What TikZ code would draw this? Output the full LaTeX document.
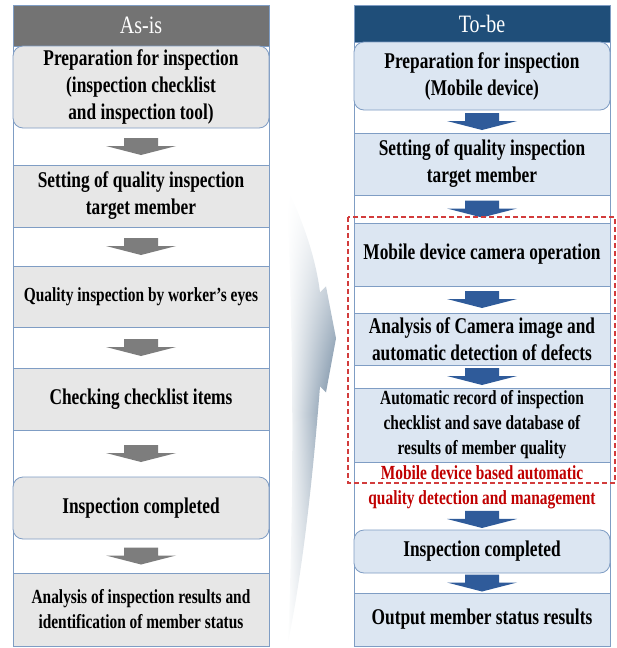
\documentclass[tikz,border=0pt]{standalone}
\usepackage{fontspec}
\setmainfont{Liberation Serif}[FakeStretch=0.77]
\newfontfamily\cabecera{Liberation Serif}[FakeStretch=0.8]
\usetikzlibrary{calc,fadings}

\definecolor{borde}{RGB}{127,157,196}
\definecolor{grisclaro}{RGB}{231,231,231}
\definecolor{grisosc}{RGB}{115,115,115}
\definecolor{azulclaro}{RGB}{220,230,242}
\definecolor{azulosc}{RGB}{31,78,121}
\definecolor{flechagris}{RGB}{125,125,125}
\definecolor{flechaazul}{RGB}{47,91,154}
\definecolor{rojo}{RGB}{192,0,0}
\definecolor{rojolinea}{RGB}{210,60,60}
\definecolor{sombra}{RGB}{105,130,155}

\tikzfading[name=puntas, top color=transparent!100, bottom color=transparent!60, middle color=transparent!0]

% flecha de bloque entre dos cajas
\newcommand{\flecha}[3]{%
  \fill[#3, shift={($(#1.south)!0.5!(#2.north)$)}]
    (-17,-8.5) -- (17,-8.5) -- (17,-0.5) -- (35,-0.5) -- (0,8.5) -- (-35,-0.5) -- (-17,-0.5) -- cycle;}

\begin{document}
\begin{tikzpicture}[x=1pt, y=-1pt,
    marco/.style={draw=borde, line width=0.8pt, fill=white},
    caja/.style={draw=borde, line width=0.8pt, minimum width=256pt, inner sep=0pt,
      align=center, font=\fontsize{22.5}{27}\selectfont\bfseries},
    chica/.style={font=\fontsize{20}{25}\selectfont\bfseries},
    gris/.style={caja, fill=grisclaro},
    azul/.style={caja, fill=azulclaro},
    redonda/.style={rounded corners=10pt},
    titulo/.style={caja, text=white, font=\cabecera\fontsize{25}{28}\selectfont}]
    \useasboundingbox (0,0) rectangle (617,648);

    % Flecha grande sombreada
    \path[left color=white, right color=sombra, path fading=puntas]
      (286,185) .. controls (305,225) and (316,260) .. (320,292) -- (326,286) -- (336,338)
      -- (326,392) -- (320,386) .. controls (315,450) and (305,560) .. (288,642)
      .. controls (294,500) and (294,330) .. (286,185) -- cycle;

    % Columna As-is
    \draw[marco] (13,5) rectangle (269,646);
    \node[titulo, fill=grisosc, minimum height=41pt] (asis) at (141,25.5) {As-is};
    \node[gris, redonda, minimum height=82pt] (L1) at (141,87)
      {Preparation for inspection\\(inspection checklist\\and inspection tool)};
    \node[gris, minimum height=62pt] (L2) at (141,196) {Setting of quality inspection\\target member};
    \node[gris, chica, minimum height=61pt] (L3) at (141,296.5) {Quality inspection by worker's eyes};
    \node[gris, minimum height=62pt] (L4) at (141,399) {Checking checklist items};
    \node[gris, redonda, minimum height=62pt] (L5) at (141,508) {Inspection completed};
    \node[gris, chica, minimum height=73pt] (L6) at (141,609.5)
      {Analysis of inspection results and\\identification of member status};

    % Columna To-be
    \draw[marco] (354,5) rectangle (610,646);
    \node[titulo, fill=azulosc, minimum height=37pt] (tobe) at (482,23.5) {To-be};
    \node[azul, redonda, minimum height=68pt] (R1) at (482,76) {Preparation for inspection\\(Mobile device)};
    \node[azul, minimum height=62pt] (R2) at (482,164) {Setting of quality inspection\\target member};
    \node[azul, minimum height=63pt] (R3) at (482,254.5) {Mobile device camera operation};
    \node[azul, minimum height=52pt] (R4) at (482,339)
      {Analysis of Camera image and\\automatic detection of defects};
    \node[azul, chica, minimum height=74pt] (R5) at (482,425)
      {Automatic record of inspection\\checklist and save database of\\results of member quality};
    \node[chica, text=rojo, align=center, inner sep=0pt] (nota) at (482,487.5)
      {Mobile device based automatic\\quality detection and management};
    \node[azul, redonda, minimum height=43pt] (R6) at (482,551.5) {Inspection completed};
    \node[azul, minimum height=53pt] (R7) at (482,619.5) {Output member status results};

    % Flechas
    \foreach \a/\b in {L1/L2, L2/L3, L3/L4, L4/L5, L5/L6} {
      \flecha{\a}{\b}{flechagris}
    }
    \foreach \a/\b in {R1/R2, R2/R3, R3/R4, R4/R5, nota/R6, R6/R7} {
      \flecha{\a}{\b}{flechaazul}
    }

    % Recuadro discontinuo
    \draw[rojolinea, line width=1.1pt, dash pattern=on 5pt off 3pt] (348,217) rectangle (615,483);

  \end{tikzpicture}
\end{document}
